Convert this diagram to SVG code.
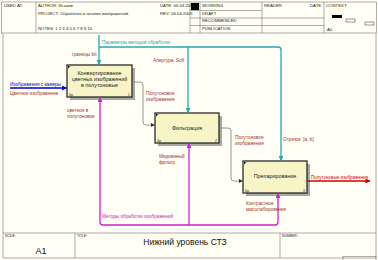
<svg xmlns="http://www.w3.org/2000/svg" width="378" height="260" viewBox="0 0 378 260">
<style>
text{font-family:"Liberation Sans",Arial,sans-serif}
.hd{font-size:4.3px;fill:#222}
.sm{font-size:3.4px;fill:#222}
.fr{fill:none;stroke:#777;stroke-width:0.6}
.box{fill:#f7f5c6;stroke:#2a2a2a;stroke-width:1.3}
.sh{fill:#a8a8a8}
.bt{font-size:5.4px;fill:#222;text-anchor:middle}
.lb{font-size:4.7px;fill:#a03232}
.cn{fill:none;stroke-width:1.3}
.cy{stroke:#2aa6b4}
.mg{stroke:#cc22cc}
.gr{stroke:#7a7a7a;stroke-width:0.8}
</style>
<defs>
<marker id="aC" viewBox="0 0 10 10" refX="9" refY="5" markerWidth="5" markerHeight="5" orient="auto" markerUnits="userSpaceOnUse"><path d="M0,0L10,5L0,10z" fill="#2aa6b4"/></marker>
<marker id="aM" viewBox="0 0 10 10" refX="9" refY="5" markerWidth="5" markerHeight="5" orient="auto" markerUnits="userSpaceOnUse"><path d="M0,0L10,5L0,10z" fill="#cc22cc"/></marker>
<marker id="aG" viewBox="0 0 10 10" refX="9" refY="5" markerWidth="4" markerHeight="4" orient="auto" markerUnits="userSpaceOnUse"><path d="M0,0L10,5L0,10z" fill="#333"/></marker>
<marker id="aB" viewBox="0 0 10 10" refX="9" refY="5" markerWidth="5" markerHeight="5" orient="auto" markerUnits="userSpaceOnUse"><path d="M0,0L10,5L0,10z" fill="#0000cc"/></marker>
<marker id="aR" viewBox="0 0 10 10" refX="9" refY="5" markerWidth="6" markerHeight="5" orient="auto" markerUnits="userSpaceOnUse"><path d="M0,0L10,5L0,10z" fill="#cc0000"/></marker>
</defs>
<rect width="378" height="260" fill="#fffff5"/>
<g id="frame">
<rect class="fr" x="1.5" y="2" width="375" height="31"/>
<line class="fr" x1="36" y1="2" x2="36" y2="33"/>
<line class="fr" x1="190" y1="2" x2="190" y2="33"/>
<line class="fr" x1="200" y1="2" x2="200" y2="33"/>
<line class="fr" x1="262" y1="2" x2="262" y2="33"/>
<line class="fr" x1="324" y1="2" x2="324" y2="33"/>
<line class="fr" x1="190" y1="10.5" x2="262" y2="10.5"/>
<line class="fr" x1="190" y1="18" x2="324" y2="18"/>
<line class="fr" x1="190" y1="25.5" x2="324" y2="25.5"/>
<rect x="191" y="3" width="8" height="7" fill="#000"/>
<text class="hd" x="4" y="7">USED AT:</text>
<text class="hd" x="38" y="7">AUTHOR:  Исаков</text>
<text class="hd" x="38" y="14.5">PROJECT:  Обработка и анализ изображений</text>
<text class="hd" x="38" y="29.5">NOTES:  1  2  3  4  5  6  7  8  9  10</text>
<text class="hd" x="160" y="7" font-size="4">DATE:  06.04.2005</text>
<text class="hd" x="160" y="14.5" font-size="4">REV:   06.04.2005</text>
<text class="hd" x="202" y="7">WORKING</text>
<text class="hd" x="202" y="14.5">DRAFT</text>
<text class="hd" x="202" y="22">RECOMMENDED</text>
<text class="hd" x="202" y="29.5">PUBLICATION</text>
<text class="hd" x="264" y="7">READER</text>
<text class="hd" x="310" y="7">DATE</text>
<text class="hd" x="326" y="7">CONTEXT:</text>
<rect x="332" y="15" width="10" height="3" fill="#000"/>
<rect x="346" y="19" width="9" height="3" fill="none" stroke="#333" stroke-width="0.5"/>
<rect x="365" y="22" width="9" height="3" fill="none" stroke="#333" stroke-width="0.5"/>
<text class="hd" x="327" y="30.5">A0</text>
<line class="fr" x1="3" y1="33" x2="3" y2="233"/>
<line class="fr" x1="376" y1="33" x2="376" y2="233"/>
<rect class="fr" x="3" y="233" width="373" height="25"/>
<line class="fr" x1="75" y1="233" x2="75" y2="258"/>
<line class="fr" x1="280" y1="233" x2="280" y2="258"/>
<text class="sm" x="5" y="237">NODE:</text>
<text class="sm" x="77" y="237">TITLE:</text>
<text class="sm" x="282" y="237">NUMBER:</text>
<text x="41" y="254" font-size="9" fill="#111" text-anchor="middle">A1</text>
<text x="185" y="245" font-size="8.5" fill="#111" text-anchor="middle">Нижний уровень СТЗ</text>
<rect x="343" y="256.5" width="33" height="4" fill="none" stroke="#777" stroke-width="0.6"/>
</g>
<g id="node1">
<rect class="sh" x="70" y="68" width="65" height="32"/>
<rect class="box" x="67" y="65" width="65" height="32"/>
<path d="M68,66h2.5l-2.5,2.5z" fill="#222"/>
<text class="bt" x="99.5" y="75">Конвертирование</text>
<text class="bt" x="99.5" y="81">цветных изображений</text>
<text class="bt" x="99.5" y="87">в полутоновые</text>
<text class="sm" x="69" y="95.5">0р.</text>
<text class="sm" x="128" y="95.5">1</text>
</g>
<g id="node2">
<rect class="sh" x="158" y="116" width="64" height="30"/>
<rect class="box" x="155" y="113" width="64" height="30"/>
<path d="M156,114h2.5l-2.5,2.5z" fill="#222"/>
<text class="bt" x="187" y="129.5">Фильтрация</text>
<text class="sm" x="157" y="141.5">0р.</text>
<text class="sm" x="215" y="141.5">2</text>
</g>
<g id="node3">
<rect class="sh" x="246" y="164" width="64" height="32"/>
<rect class="box" x="243" y="161" width="64" height="32"/>
<path d="M244,162h2.5l-2.5,2.5z" fill="#222"/>
<text class="bt" x="275" y="177.5">Препарирование</text>
<text class="sm" x="245" y="191.5">0р.</text>
<text class="sm" x="303" y="191.5">3</text>
</g>
<g id="connectors">
<path class="cn cy" d="M99,35V64.5" marker-end="url(#aC)"/>
<path class="cn cy" d="M99,47H278Q281,47 281,50V160.5" marker-end="url(#aC)"/>
<path class="cn cy" d="M188,47V112.5" marker-end="url(#aC)"/>
<path class="cn" stroke="#0000cc" d="M10,88H66.5" marker-end="url(#aB)"/>
<path class="cn gr" d="M132,82H140Q143,82 143,85V122Q143,125 146,125H154.5" marker-end="url(#aG)"/>
<path class="cn gr" d="M219,128H228Q231,128 231,131V178Q231,181 234,181H242.5" marker-end="url(#aG)"/>
<path class="cn" stroke="#cc0000" stroke-width="1.5" d="M307,181H370" marker-end="url(#aR)"/>
<path class="cn mg" d="M103,225H275Q278,225 278,222V193.5" marker-end="url(#aM)"/>
<path class="cn mg" d="M103,225Q100,225 100,222V97.5" marker-end="url(#aM)"/>
<path class="cn mg" d="M189,225V143.5" marker-end="url(#aM)"/>
<text x="102" y="44" font-size="4.7" fill="#2aa6b4">Параметры методов обработки</text>
<text class="lb" x="72" y="56">границы bit</text>
<text class="lb" x="153" y="62">Апертура, Soft</text>
<text class="lb" x="283" y="141">Отрезок: [a, b]</text>
<text x="10" y="86" font-size="4.7" fill="#0000cc">Изображения с камеры</text>
<text class="lb" x="10" y="95">Цветное изображение</text>
<text class="lb" x="146" y="95">Полутоновое</text>
<text class="lb" x="146" y="101">изображение</text>
<text class="lb" x="235" y="139">Полутоновое</text>
<text class="lb" x="235" y="145">изображение</text>
<text x="311" y="179" font-size="4.5" fill="#cc0000">Полутоновые изображения</text>
<text class="lb" x="67" y="112">цветное в</text>
<text class="lb" x="67" y="118">полутоновое</text>
<text class="lb" x="159" y="158">Медианный</text>
<text class="lb" x="159" y="164">фильтр</text>
<text class="lb" x="246" y="205">Контрастное</text>
<text class="lb" x="246" y="211">масштабирование</text>
<text x="102" y="218" font-size="4.7" fill="#cc22cc">Методы обработки изображений</text>
</g>
</svg>
